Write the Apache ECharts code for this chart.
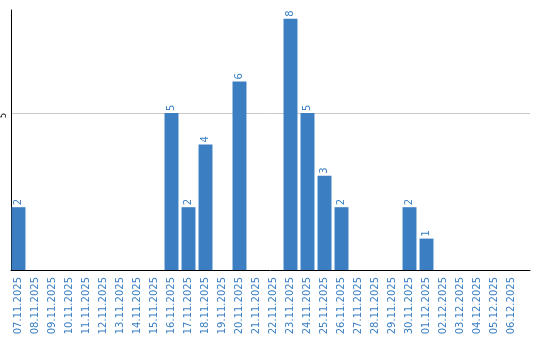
<!DOCTYPE html>
<html><head><meta charset="utf-8">
<script src="https://cdn.jsdelivr.net/npm/echarts@6/dist/echarts.min.js"></script>
<style>html,body{margin:0;padding:0;background:#fff}#c{width:540px;height:340px}</style>
</head><body><div id="c"></div>
<script>
const categories = ["07.11.2025","08.11.2025","09.11.2025","10.11.2025","11.11.2025","12.11.2025","13.11.2025","14.11.2025","15.11.2025","16.11.2025","17.11.2025","18.11.2025","19.11.2025","20.11.2025","21.11.2025","22.11.2025","23.11.2025","24.11.2025","25.11.2025","26.11.2025","27.11.2025","28.11.2025","29.11.2025","30.11.2025","01.12.2025","02.12.2025","03.12.2025","04.12.2025","05.12.2025","06.12.2025"];
const values = [2,null,null,null,null,null,null,null,null,5,2,4,null,6,null,null,8,5,3,2,null,null,null,2,1,null,null,null,null,null];
const yTicks = [5];
const yMax = 8.28;

const chart = echarts.init(document.getElementById('c'));
chart.setOption({
  animation: false,
  textStyle: { fontFamily: 'DejaVu Sans' },
  grid: [
    { left: 10, right: 10, top: 10, bottom: 70, containLabel: false },
    { left: 10, right: 20, top: 10, bottom: 70, containLabel: false }
  ],
  xAxis: [
    {
      gridIndex: 0, type: 'value', min: 0, max: 1,
      axisLine: { show: true, lineStyle: { color: '#000', width: 1 } },
      axisTick: { show: false }, axisLabel: { show: false }, splitLine: { show: false }
    },
    {
      gridIndex: 1, type: 'category', data: categories,
      axisLine: { show: false },
      axisTick: { show: false },
      axisLabel: { rotate: 90, interval: 0, color: '#3a7fc4', fontSize: 10, margin: 7, fontFamily: 'DejaVu Sans' }
    }
  ],
  yAxis: [
    {
      gridIndex: 0, type: 'value', min: 0, max: yMax, interval: 5,
      axisLine: { show: true, lineStyle: { color: '#000', width: 1 } },
      axisTick: { show: false },
      splitLine: { show: true, showMinLine: false, showMaxLine: false, lineStyle: { color: '#c8c8c8', width: 1 } },
      axisLabel: {
        rotate: 90, fontSize: 8, color: '#000', margin: 3,
        padding: [0, 5, 0, 0],
        showMinLabel: false, showMaxLabel: false,
        formatter: v => yTicks.includes(v) ? String(v) : ''
      }
    },
    {
      gridIndex: 1, type: 'value', min: 0, max: yMax, show: false
    }
  ],
  series: [{
    type: 'bar',
    xAxisIndex: 1, yAxisIndex: 1,
    data: values,
    barCategoryGap: '18%',
    itemStyle: { color: '#3b7ec2' },
    label: {
      show: true, position: 'top', rotate: 90, align: 'left', verticalAlign: 'middle',
      distance: 2, color: '#3a7fc4', fontSize: 10, fontFamily: 'DejaVu Sans'
    }
  }]
});
</script></body></html>
